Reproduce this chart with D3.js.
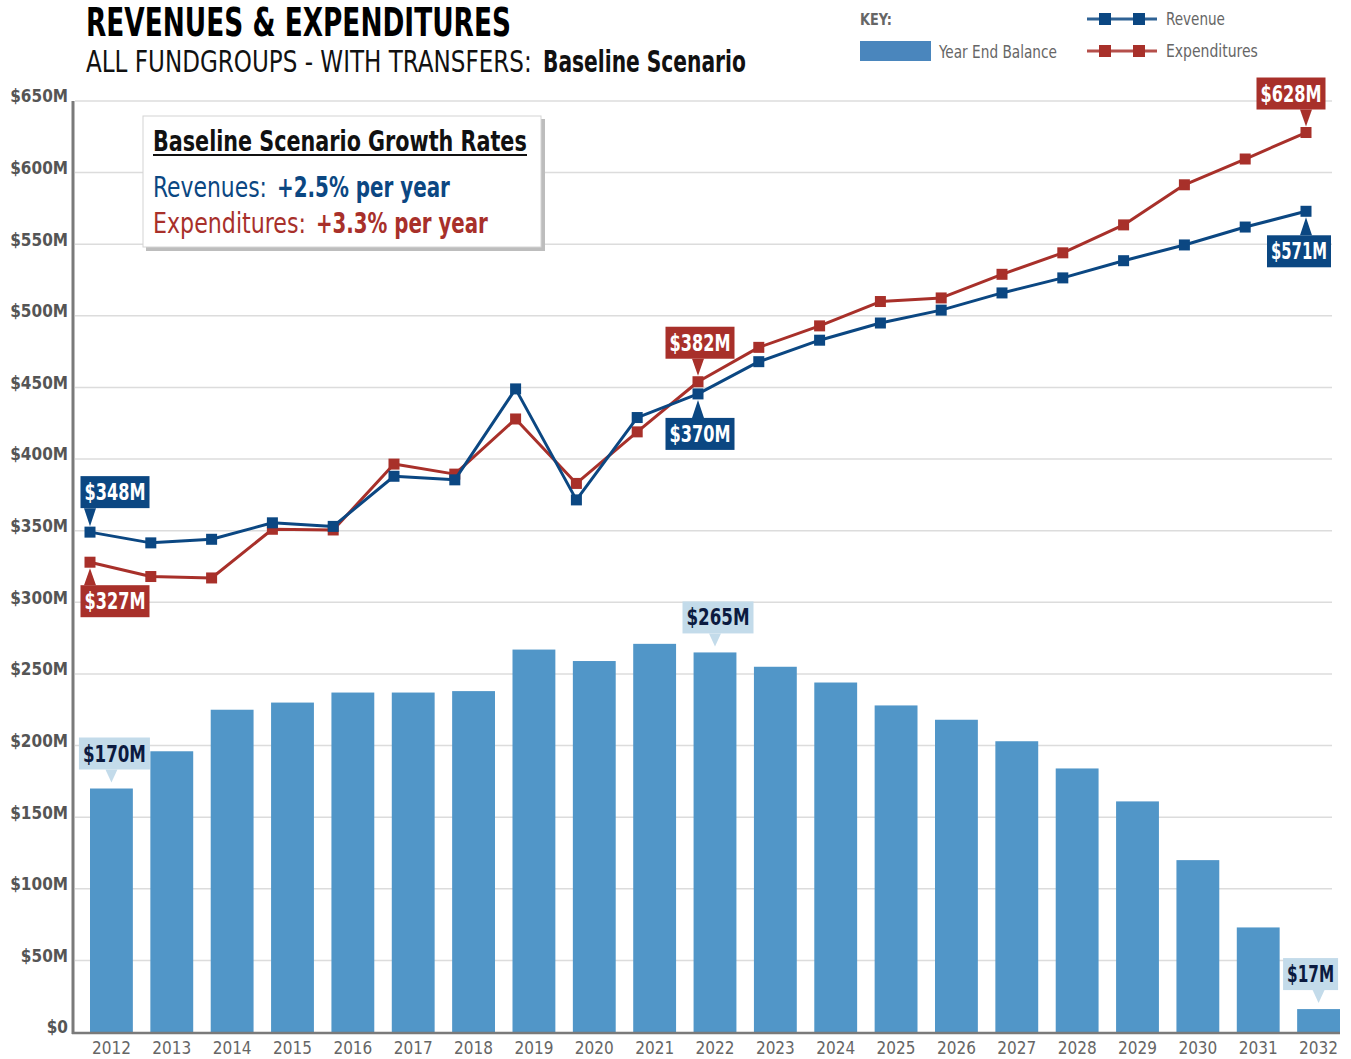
<!DOCTYPE html>
<html>
<head>
<meta charset="utf-8">
<script src="https://cdn.jsdelivr.net/npm/d3@7"></script>
<style>
  body { margin: 0; background: #fff; }
  text { font-family: "Liberation Sans Narrow", "DejaVu Sans Condensed", "Roboto", sans-serif; }
</style>
</head>
<body>
<script>
// datos
const anios = ["2012","2013","2014","2015","2016","2017","2018","2019","2020","2021","2022",
  "2023","2024","2025","2026","2027","2028","2029","2030","2031","2032"];
const saldo = [170,196,225,230,237,237,238,267,259,271,265,255,244,228,218,203,184,161,120,73,16];
const ingresos = [349,341.5,344,355.5,353,388,385.5,449,371.5,429,445.5,468,483,495,504,516,526.5,538.5,549.5,562,573];
const gastos = [328,318,317,351,350.5,396.5,389.5,428,383,419,454,478,493,510,512.5,529,544,563.5,591.5,609.5,628];
const ticksY = [0,50,100,150,200,250,300,350,400,450,500,550,600,650];

// etiquetas destacadas
const notasIngresos = [{ i: 0, txt: "$348M", lado: "arriba" }, { i: 10, txt: "$370M", lado: "abajo" }, { i: 20, txt: "$571M", lado: "abajo" }];
const notasGastos = [{ i: 0, txt: "$327M", lado: "abajo" }, { i: 10, txt: "$382M", lado: "arriba" }, { i: 20, txt: "$628M", lado: "arriba" }];
const notasSaldo = [{ i: 0, txt: "$170M" }, { i: 10, txt: "$265M" }, { i: 20, txt: "$17M" }];

const AZUL = "#0b4782", ROJO = "#a8302a", BARRA = "#5196c8", GRIS = "#666";

const svg = d3.select("body").append("svg")
  .attr("width", 1351)
  .attr("height", 1059);

const y = d3.scaleLinear().domain([0, 650]).range([1032, 101]);
const xBar = d3.scaleBand().domain(anios).range([90, 1340]).paddingInner(0.29).paddingOuter(0);
const xLin = d3.scalePoint().domain(anios).range([90, 1306]);

// ajusta el ancho de un texto: cambia el tamaño y compensa la altura con scale
function ancho(sel, w) {
  const n = sel.node().getComputedTextLength();
  const fs = +sel.attr("font-size");
  const k = w / n;
  const x = +sel.attr("x"), yb = +sel.attr("y");
  return sel.attr("font-size", fs * k)
    .attr("transform", `translate(${x},${yb}) scale(1,${1 / k}) translate(${-x},${-yb})`);
}

// grilla
svg.append("g").selectAll("line")
  .data(ticksY.filter(d => d > 0))
  .join("line")
  .attr("x1", 75).attr("x2", 1332)
  .attr("y1", d => y(d)).attr("y2", d => y(d))
  .attr("stroke", "#dcdcdc").attr("stroke-width", 1.5);

// eje y
const ejeY = svg.append("g")
  .attr("transform", "translate(73,0)")
  .call(d3.axisLeft(y).tickValues(ticksY).tickSize(0).tickPadding(5)
    .tickFormat(d => d === 0 ? "$0" : "$" + d + "M"));
ejeY.select(".domain").remove();
ejeY.selectAll("text")
  .attr("dy", "0.05em")
  .attr("fill", "#555")
  .attr("font-size", 17)
  .attr("font-weight", "bold");

// barras
svg.append("g").selectAll("rect")
  .data(saldo)
  .join("rect")
  .attr("x", (d, i) => xBar(anios[i]))
  .attr("width", xBar.bandwidth())
  .attr("y", d => y(d))
  .attr("height", d => y(0) - y(d))
  .attr("fill", BARRA);

// lineas de ejes
svg.append("line").attr("x1", 73).attr("x2", 73).attr("y1", 101).attr("y2", 1034)
  .attr("stroke", "#7a7a7a").attr("stroke-width", 3);
svg.append("line").attr("x1", 72).attr("x2", 1340).attr("y1", 1033).attr("y2", 1033)
  .attr("stroke", "#7a7a7a").attr("stroke-width", 2.5);

// eje x
const ejeX = svg.append("g")
  .attr("transform", "translate(0,1034)")
  .call(d3.axisBottom(xBar).tickSize(0).tickPadding(4));
ejeX.select(".domain").remove();
ejeX.selectAll("text").attr("fill", GRIS).attr("font-size", 17).attr("dy", "0.95em");

// lineas
const linea = d3.line().x((d, i) => xLin(anios[i])).y(d => y(d));
[[gastos, ROJO], [ingresos, AZUL]].forEach(([serie, color]) => {
  const g = svg.append("g");
  g.append("path").datum(serie)
    .attr("d", linea).attr("fill", "none")
    .attr("stroke", color).attr("stroke-width", 3).attr("stroke-linejoin", "round");
  g.selectAll("rect").data(serie).join("rect")
    .attr("x", (d, i) => xLin(anios[i]) - 5.5)
    .attr("y", d => y(d) - 5.5)
    .attr("width", 11).attr("height", 11)
    .attr("fill", color);
});

// etiquetas tipo globo
function globo(cx, py, txt, lado, bg, fg, w, dx, gap) {
  const h = 32;
  const g = svg.append("g");
  let top, tri;
  if (lado === "arriba") {
    top = py - gap - h;
    tri = [[cx - 6, top + h], [cx + 6, top + h], [cx, py - 6]];
  } else {
    top = py + gap;
    tri = [[cx - 6, top], [cx + 6, top], [cx, py + 6]];
  }
  const left = cx + dx - w / 2;
  g.append("rect").attr("x", left).attr("y", top).attr("width", w).attr("height", h).attr("fill", bg);
  g.append("path").attr("d", d3.line()(tri) + "Z").attr("fill", bg);
  ancho(g.append("text")
    .attr("x", left + w / 2).attr("y", top + h / 2 + 8)
    .attr("text-anchor", "middle")
    .attr("fill", fg).attr("font-size", 23).attr("font-weight", "bold")
    .text(txt), w - 8);
}

const desplaz = { 0: 25, 10: 2, 20: -12 };
notasIngresos.forEach(n => globo(xLin(anios[n.i]), y(ingresos[n.i]), n.txt, n.lado, AZUL, "#fff",
  n.i === 20 ? 64 : 69, n.i === 20 ? -7 : desplaz[n.i], 24));
notasGastos.forEach(n => globo(xLin(anios[n.i]), y(gastos[n.i]), n.txt, n.lado, ROJO, "#fff", 69,
  n.i === 20 ? -15 : desplaz[n.i], 23));
notasSaldo.forEach(n => {
  const cx = xBar(anios[n.i]) + xBar.bandwidth() / 2;
  globo(cx, y(saldo[n.i]), n.txt, "arriba", "#c3dbea", "#0b1a40", n.txt.length > 4 ? 71 : 55,
    n.i === 20 ? -8 : 3, 19);
});

// cuadro de tasas
const caja = svg.append("g");
caja.append("rect").attr("x", 146).attr("y", 119).attr("width", 399).attr("height", 132).attr("fill", "#bdbdbd");
caja.append("rect").attr("x", 143).attr("y", 116).attr("width", 398).attr("height", 131)
  .attr("fill", "#fff").attr("stroke", "#d4d4d4").attr("stroke-width", 1);
ancho(caja.append("text").attr("x", 153).attr("y", 151)
  .attr("font-size", 28).attr("font-weight", "bold").attr("fill", "#111")
  .text("Baseline Scenario Growth Rates"), 374);
caja.append("line").attr("x1", 153).attr("x2", 527).attr("y1", 155).attr("y2", 155)
  .attr("stroke", "#111").attr("stroke-width", 2);

// texto en dos partes: normal + negrita
function dosPartes(g, x, yb, size, color, a, wa, xb, b, wb) {
  ancho(g.append("text").attr("x", x).attr("y", yb).attr("font-size", size).attr("fill", color).text(a), wa);
  ancho(g.append("text").attr("x", xb).attr("y", yb).attr("font-size", size).attr("fill", color)
    .attr("font-weight", "bold").text(b), wb);
}
dosPartes(caja, 153, 197, 28, AZUL, "Revenues:", 114, 277, "+2.5% per year", 173);
dosPartes(caja, 153, 233, 28, ROJO, "Expenditures:", 153, 316, "+3.3% per year", 172);

// titulos
ancho(svg.append("text").attr("x", 86).attr("y", 36)
  .attr("font-size", 39).attr("font-weight", "bold").attr("fill", "#000")
  .text("REVENUES & EXPENDITURES"), 425);
dosPartes(svg, 86, 72, 30, "#111", "ALL FUNDGROUPS - WITH TRANSFERS:", 446, 543, "Baseline Scenario", 203);

// leyenda
ancho(svg.append("text").attr("x", 860).attr("y", 25).attr("font-size", 16).attr("font-weight", "bold")
  .attr("fill", GRIS).text("KEY:"), 32);
svg.append("rect").attr("x", 860).attr("y", 41).attr("width", 71).attr("height", 20).attr("fill", "#4a86bd");
ancho(svg.append("text").attr("x", 939).attr("y", 58).attr("font-size", 18).attr("fill", GRIS)
  .text("Year End Balance"), 118);
[["Revenue", AZUL, 19, 59], ["Expenditures", ROJO, 51, 92]].forEach(([nom, color, ly, w]) => {
  svg.append("line").attr("x1", 1087).attr("x2", 1157).attr("y1", ly).attr("y2", ly)
    .attr("stroke", color).attr("stroke-width", 3).attr("stroke-opacity", 0.85);
  svg.selectAll(null).data([1105, 1139]).join("rect")
    .attr("x", d => d - 6).attr("y", ly - 6).attr("width", 12).attr("height", 12).attr("fill", color);
  ancho(svg.append("text").attr("x", 1166).attr("y", ly + 6).attr("font-size", 18).attr("fill", GRIS)
    .text(nom), w);
});
</script>
</body>
</html>
